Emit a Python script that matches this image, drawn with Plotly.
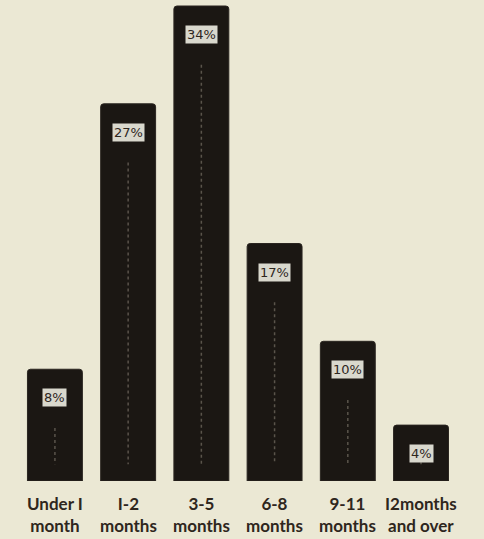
import plotly.graph_objects as go

categories = ["Under I<br>month", "I-2<br>months", "3-5<br>months", "6-8<br>months", "9-11<br>months", "I2months<br>and over"]
values = [8, 27, 34, 17, 10, 4]
value_labels = ["8%", "27%", "34%", "17%", "10%", "4%"]

bg = "#ebe8d4"
bar_col = "#1b1713"
ink = "#2e261d"

xs = list(range(len(categories)))
fig = go.Figure()
fig.add_trace(go.Bar(
    x=xs, y=values, width=0.75,
    marker=dict(color=bar_col, line=dict(color="#2a2520", width=1), cornerradius=3),
    hoverinfo="skip",
))

# faint dotted guide lines inside bars
for x, v in zip(xs, values):
    fig.add_trace(go.Scatter(
        x=[x, x], y=[v - 4.2 if v > 6 else v - 2.6, 1.2],
        mode="lines", line=dict(color="#5a544b", width=1.5, dash="dot"),
        hoverinfo="skip", showlegend=False,
    ))

for x, v, t in zip(xs, values, value_labels):
    fig.add_annotation(
        x=x, y=v, text=t, showarrow=False, yanchor="top", yshift=-19,
        font=dict(family="DejaVu Sans", size=13, color=ink),
        bgcolor="#d9d8cd", borderpad=1,
    )

for x, c in zip(xs, categories):
    fig.add_annotation(
        x=x, y=0, text=c, showarrow=False, yanchor="top", yshift=-10,
        font=dict(family="Lato", size=17, color=ink, weight="bold"),
        align="center",
    )

fig.update_layout(
    width=484, height=539,
    margin=dict(l=0, r=0, t=0, b=58),
    paper_bgcolor=bg, plot_bgcolor=bg,
    showlegend=False,
    xaxis=dict(range=[-0.75, 5.86], visible=False, fixedrange=True),
    yaxis=dict(range=[0, 34.43], visible=False, fixedrange=True),
)

fig.write_html("out.html")
